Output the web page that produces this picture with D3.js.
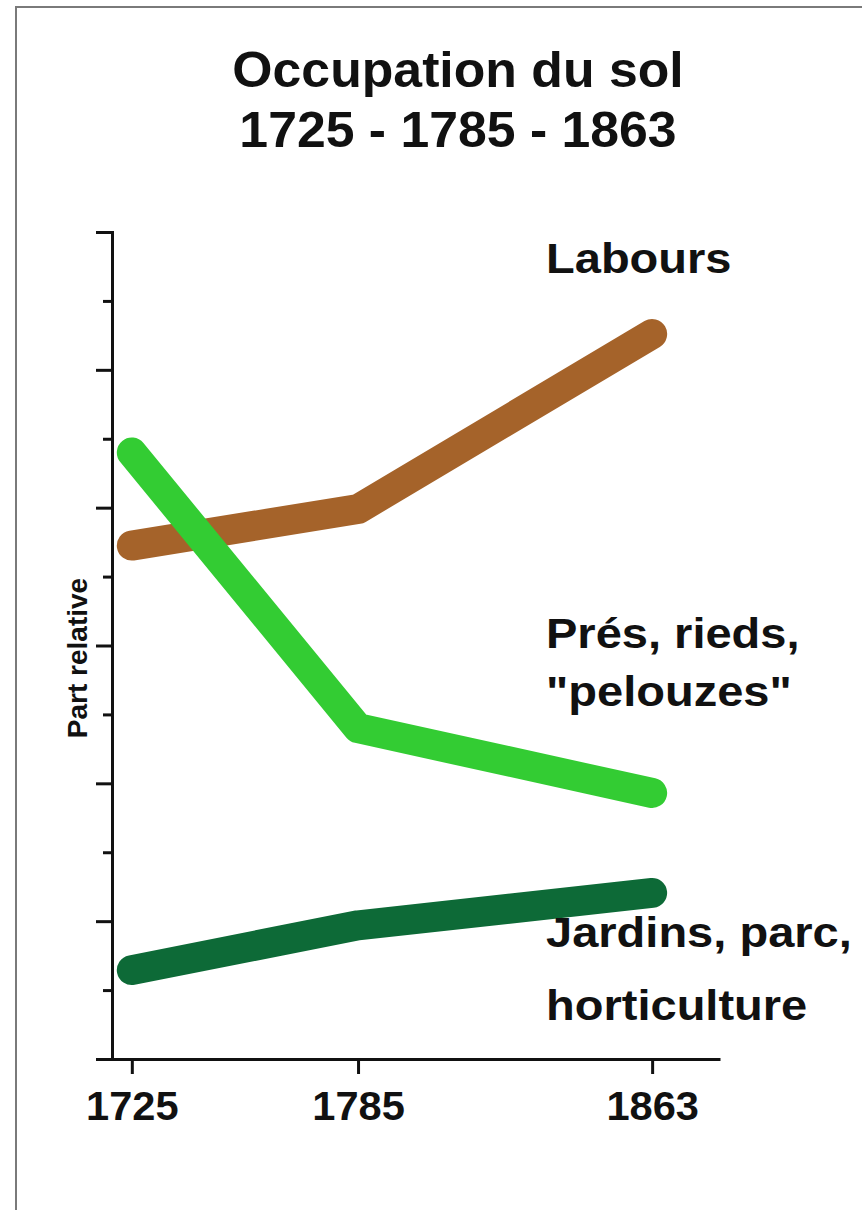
<!DOCTYPE html>
<html>
<head>
<meta charset="utf-8">
<script src="https://cdn.jsdelivr.net/npm/d3@7"></script>
<style>
  body { margin: 0; background: #fff; }
  svg { display: block; font-family: "Liberation Sans", Arial, sans-serif; }
  .axis path, .axis line { stroke: #111; stroke-width: 3px; }
  .axis text { fill: #111; font-weight: bold; font-size: 40px; }
</style>
</head>
<body>
<svg id="chart"></svg>
<script>
// values (y in "relative share" units, 0 at the x axis)
var years = [1725, 1785, 1863];
var labours = [7.45, 7.98, 10.52];
var pres = [8.8, 4.8, 3.86];
var jardins = [1.29, 1.94, 2.41];
var titleLines = ["Occupation du sol", "1725 - 1785 - 1863"];
var seriesNames = ["Labours", "Prés, rieds,|\"pelouzes\"", "Jardins, parc,|horticulture"];

var width = 862,
    height = 1210;

var svg = d3.select("#chart")
    .attr("width", width)
    .attr("height", height);

// light frame (left and top only, as in the scan)
svg.append("path")
    .attr("d", "M16,1210 V7 H862")
    .attr("fill", "none")
    .attr("stroke", "#7a7a7a")
    .attr("stroke-width", 2);

// the scanned lettering is a bit wider than the font, so stretch it sideways
svg.selectAll("text.title")
    .data(titleLines)
    .enter().append("text")
    .attr("class", "title")
    .attr("transform", function(d, i) { return "translate(458," + (87 + i * 60) + ") scale(1.035,1)"; })
    .attr("text-anchor", "middle")
    .style("font-size", "50px")
    .style("font-weight", "bold")
    .style("fill", "#111")
    .text(function(d) { return d; });

var x = d3.scaleLinear().domain([1715.5, 1881]).range([96, 720]);
var y = d3.scaleLinear().domain([0, 12]).range([1059, 232]);

// y axis: long ticks on even values, short ticks on odd ones, no labels
var yAxis = svg.append("g")
    .attr("class", "axis")
    .attr("transform", "translate(112,0)")
    .call(d3.axisLeft(y).ticks(12).tickSize(16).tickSizeOuter(16).tickFormat(""));
yAxis.selectAll(".tick line")
    .attr("x2", function(d) { return d % 2 ? -9 : -16; });
yAxis.select(".domain").attr("fill", "none");

var xAxis = svg.append("g")
    .attr("class", "axis")
    .attr("transform", "translate(0," + y(0) + ")")
    .call(d3.axisBottom(x).tickValues(years).tickSize(15).tickSizeOuter(0).tickFormat(d3.format("d")));
xAxis.selectAll(".tick text")
    .attr("dy", null)
    .attr("y", 61)
    .attr("transform", "scale(1.04,1)");
xAxis.select(".domain").attr("fill", "none");

svg.append("text")
    .attr("transform", "translate(87,658) rotate(-90)")
    .attr("text-anchor", "middle")
    .style("font-size", "28px")
    .style("font-weight", "bold")
    .style("fill", "#111")
    .text("Part relative");

var line = d3.line()
    .x(function(d, i) { return x(years[i]); })
    .y(function(d) { return y(d); });

var series = [
    { values: labours, color: "#a5632a" },
    { values: jardins, color: "#0d6a37" },
    { values: pres, color: "#33cc33" }
];

svg.selectAll("path.series")
    .data(series)
    .enter().append("path")
    .attr("class", "series")
    .attr("d", function(d) { return line(d.values); })
    .attr("fill", "none")
    .attr("stroke", function(d) { return d.color; })
    .attr("stroke-width", 30)
    .attr("stroke-linecap", "round")
    .attr("stroke-linejoin", "round");

// labels on the right
var labelY = [[273], [648, 706], [947, 1020]];
seriesNames.forEach(function(name, i) {
    var t = svg.append("text")
        .attr("transform", "translate(546,0) scale(1.12,1)")
        .style("font-size", "42px")
        .style("font-weight", "bold")
        .style("fill", "#111");
    name.split("|").forEach(function(part, j) {
        t.append("tspan")
            .attr("x", 0)
            .attr("y", labelY[i][j])
            .text(part);
    });
});
</script>
</body>
</html>
